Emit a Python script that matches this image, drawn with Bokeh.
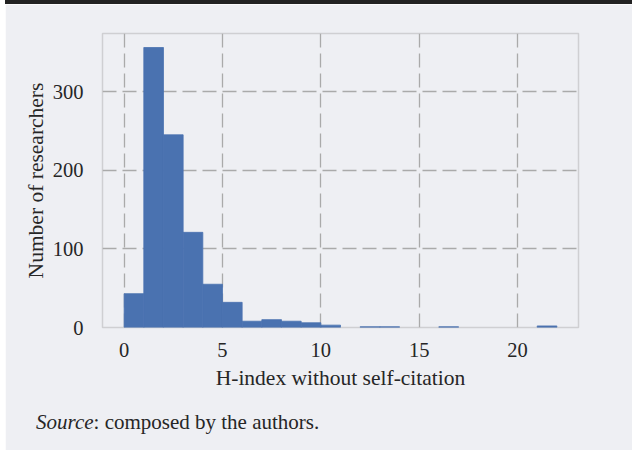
from bokeh.plotting import figure
from bokeh.models import Range1d, FixedTicker, Div
from bokeh.embed import file_html
from bokeh.resources import INLINE

# Histogram data: H-index without self-citation (bins of width 1)
bin_edges = list(range(0, 23))
counts = [43, 356, 245, 121, 55, 32, 8, 10, 8, 6, 3, 0, 1, 1, 0, 0, 1, 0, 0, 0, 0, 2]
x_ticks = [0, 5, 10, 15, 20]
y_ticks = [0, 100, 200, 300]
x_label = "H-index without self-citation"
y_label = "Number of researchers"
source_italic = "Source"
source_rest = ": composed by the authors."

BG = "#eeeff3"
BAR = "#4a72b0"
GRID = "#aaaaaa"
FONT = "Liberation Serif"
TXT = "#262626"

W, H = 627, 450

p = figure(width=W, height=H, output_backend="svg", toolbar_location=None,
           x_range=Range1d(-1.1, 23.1), y_range=Range1d(0, 373.8),
           min_border_left=97, min_border_right=54, min_border_top=29, min_border_bottom=127,
           styles={"position": "absolute", "left": "5px", "top": "0px",
                   "border-top": "4px solid #222222"})
p.background_fill_color = BG
p.border_fill_color = BG
p.outline_line_color = "#cfcfd2"
p.outline_line_width = 1.5

nz = [i for i, c in enumerate(counts) if c > 0]
p.quad(left=[bin_edges[i] for i in nz], right=[bin_edges[i + 1] for i in nz],
       top=[counts[i] for i in nz], bottom=0,
       fill_color=BAR, line_color=BAR, line_width=0.8)

for ax in (p.xaxis[0], p.yaxis[0]):
    ax.axis_line_color = None
    ax.major_tick_line_color = None
    ax.minor_tick_line_color = None
    ax.major_label_text_font = FONT
    ax.major_label_text_font_size = "20.5px"
    ax.major_label_text_color = TXT
    ax.axis_label_text_font = FONT
    ax.axis_label_text_font_size = "21.5px"
    ax.axis_label_text_font_style = "normal"
    ax.axis_label_text_color = TXT

p.xaxis.ticker = FixedTicker(ticks=x_ticks)
p.yaxis.ticker = FixedTicker(ticks=y_ticks)
p.xaxis.axis_label = x_label
p.yaxis.axis_label = y_label
p.xaxis.major_label_standoff = 9
p.yaxis.major_label_standoff = 13
p.xaxis.axis_label_standoff = 6
p.yaxis.axis_label_standoff = 2

for g in (p.xgrid[0], p.ygrid[0]):
    g.grid_line_color = GRID
    g.grid_line_width = 1.3
    g.grid_line_dash = "14 6"

src = Div(text=f"<i>{source_italic}</i>{source_rest}",
          styles={"position": "absolute", "left": "31px", "top": "405px",
                  "font-family": FONT, "font-size": "21px", "color": TXT,
                  "white-space": "nowrap", "line-height": "24px"})

open("out.html", "w").write(file_html([p, src], INLINE))
